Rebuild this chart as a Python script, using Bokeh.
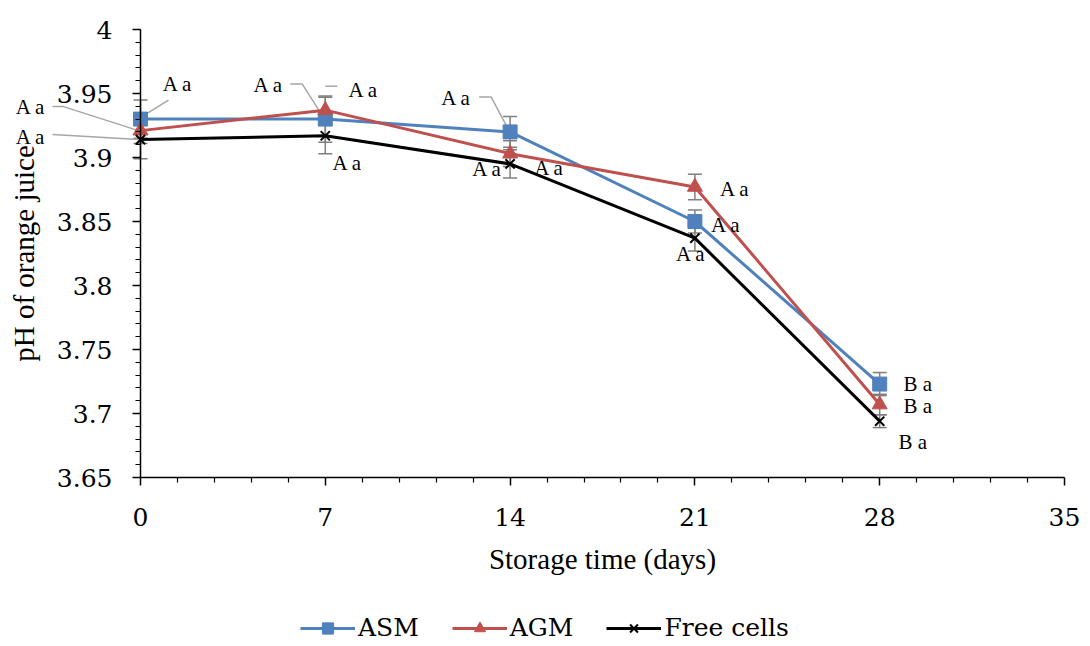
from bokeh.plotting import figure
from bokeh.models import (Range1d, FixedTicker, Whisker, ColumnDataSource, Legend, LegendItem,
                          TeeHead, Label)
from bokeh.embed import file_html
from bokeh.resources import INLINE

# ---- data ----
days = [0, 7, 14, 21, 28]
asm = [3.930, 3.930, 3.920, 3.850, 3.723]
agm = [3.921, 3.937, 3.903, 3.877, 3.707]
free_cells = [3.914, 3.917, 3.895, 3.837, 3.694]
asm_err = [0.015, 0.018, 0.012, 0.009, 0.009]
agm_err = [0.010, 0.010, 0.010, 0.010, 0.008]
free_err = [0.015, 0.014, 0.011, 0.010, 0.005]
asm_letters = ["A a", "A a", "A a", "A a", "B a"]
agm_letters = ["A a", "A a", "A a", "A a", "B a"]
free_letters = ["A a", "A a", "A a", "A a", "B a"]
x_ticks = [0, 7, 14, 21, 28, 35]
y_ticks = [3.65, 3.70, 3.75, 3.80, 3.85, 3.90, 3.95, 4.00]
y_tick_labels = ["3.65", "3.7", "3.75", "3.8", "3.85", "3.9", "3.95", "4"]
series_names = ["ASM", "AGM", "Free cells"]

# ---- layout constants ----
W, H = 1090, 646
L, R, T, B = 140, 26, 29, 169          # where the axes box sits inside the page
X0, X1 = 0, 35
Y0, Y1 = 3.65, 4.0
px_x = (W - L - R) / (X1 - X0)
px_y = (H - T - B) / (Y1 - Y0)
FONT = "Liberation Serif"
TICK_FONT = "DejaVu Serif"

p = figure(width=W, height=H, output_backend="svg", toolbar_location=None,
           x_range=Range1d(X0 - L / px_x, X1 + R / px_x),
           y_range=Range1d(Y0 - B / px_y, Y1 + T / px_y),
           min_border=0)
p.outline_line_color = None
p.xgrid.visible = False
p.ygrid.visible = False
p.background_fill_color = "white"
p.border_fill_color = "white"

p.xaxis.fixed_location = Y0
p.xaxis.bounds = (X0, X1)
p.yaxis.fixed_location = X0
p.yaxis.bounds = (Y0, Y1)

minor_x = [round(i * 1.4, 2) for i in range(26) if i % 5 != 0]
p.xaxis.ticker = FixedTicker(ticks=x_ticks, minor_ticks=minor_x)
minor_y = [round(Y0 + 0.01 * i, 3) for i in range(36)]
p.yaxis.ticker = FixedTicker(ticks=y_ticks, minor_ticks=minor_y)
p.yaxis.major_label_overrides = {t: s for t, s in zip(y_ticks, y_tick_labels)}

for ax in (p.xaxis[0], p.yaxis[0]):
    ax.axis_line_color = "black"
    ax.axis_line_width = 1.5
    ax.major_tick_line_color = "black"
    ax.minor_tick_line_color = "black"
    ax.major_tick_line_width = 1.5
    ax.minor_tick_line_width = 1.2
    ax.major_tick_out = 8
    ax.major_tick_in = 0
    ax.minor_tick_out = 5
    ax.minor_tick_in = 0
    ax.major_label_text_font = TICK_FONT
    ax.major_label_text_font_size = "25px"
    ax.major_label_text_font_style = "normal"
    ax.major_label_text_color = "black"
    ax.axis_label_text_font = FONT
    ax.axis_label_text_font_size = "29px"
    ax.axis_label_text_font_style = "normal"
    ax.axis_label_text_color = "black"

p.xaxis.axis_label = "Storage time (days)"
p.yaxis.axis_label = "pH of orange juice"
p.xaxis.major_label_standoff = 22
p.xaxis.axis_label_standoff = 14
p.yaxis.major_label_standoff = 20
p.yaxis.axis_label_standoff = 14

colors = ["#4F81BD", "#C0504D", "#000000"]
values = [asm, agm, free_cells]
errs = [asm_err, agm_err, free_err]
letters = [asm_letters, agm_letters, free_letters]

for vals, err in zip(values, errs):
    src = ColumnDataSource(dict(x=days, lo=[v - e for v, e in zip(vals, err)],
                                hi=[v + e for v, e in zip(vals, err)]))
    w = Whisker(base="x", lower="lo", upper="hi", source=src,
                line_color="#7F7F7F", line_width=1.5,
                upper_head=TeeHead(size=14, line_color="#7F7F7F", line_width=1.5),
                lower_head=TeeHead(size=14, line_color="#7F7F7F", line_width=1.5))
    p.add_layout(w)

leaders = [
    (0, 0, [(28, -19), (-1, -1)]),
    (1, 0, [(-88, -24), (-77, -24), (-2, 0)]),
    (2, 0, [(-88, -5), (-2, 0)]),
    (0, 1, [(-35, -35), (-23, -35), (-2, -2)]),
    (1, 1, [(0, -24), (12, -24)]),
    (0, 2, [(-31, -35), (-19, -35), (-1, -1)]),
]
xs, ys = [], []
for si, di, pts in leaders:
    bx, by = days[di], values[si][di]
    xs.append([bx + dx / px_x for dx, dy in pts])
    ys.append([by - dy / px_y for dx, dy in pts])
p.multi_line(xs, ys, line_color="#A6A6A6", line_width=1.5)

items = []
for name, vals, col in zip(series_names, values, colors):
    lr = p.line(days, vals, line_color=col, line_width=3)
    if name == "ASM":
        sr = p.scatter(days, vals, marker="square", size=14, fill_color=col, line_color=col)
    elif name == "AGM":
        sr = p.scatter(days, vals, marker="triangle", size=15, fill_color=col, line_color=col)
    else:
        sr = p.scatter(days, vals, marker="x", size=13, line_color=col, line_width=2)
    items.append(LegendItem(label=name, renderers=[lr, sr]))

offsets = [
    [(37, -35), (-57, -34), (-54, -34), (31, 3), (38, 0)],
    [(-110, -24), (38, -20), (39, 14), (40, 2), (38, 1)],
    [(-110, -3), (22, 27), (-23, 5), (-4, 16), (33, 21)],
]
for vals, lets, offs in zip(values, letters, offsets):
    for xv, yv, t, (dx, dy) in zip(days, vals, lets, offs):
        p.add_layout(Label(x=xv, y=yv, text=t, x_offset=dx, y_offset=-dy,
                           text_font=FONT, text_font_size="21px", text_color="black",
                           text_align="center", text_baseline="middle"))

legend = Legend(items=items, orientation="horizontal", location=(300, 4),
                label_text_font=TICK_FONT, label_text_font_size="25px",
                label_text_font_style="normal", label_text_color="black",
                glyph_width=55, glyph_height=28, label_height=28, label_standoff=3,
                spacing=33, padding=0, margin=0,
                border_line_color=None, background_fill_alpha=0)
p.add_layout(legend, "center")

open("out.html", "w").write(file_html(p, INLINE))
